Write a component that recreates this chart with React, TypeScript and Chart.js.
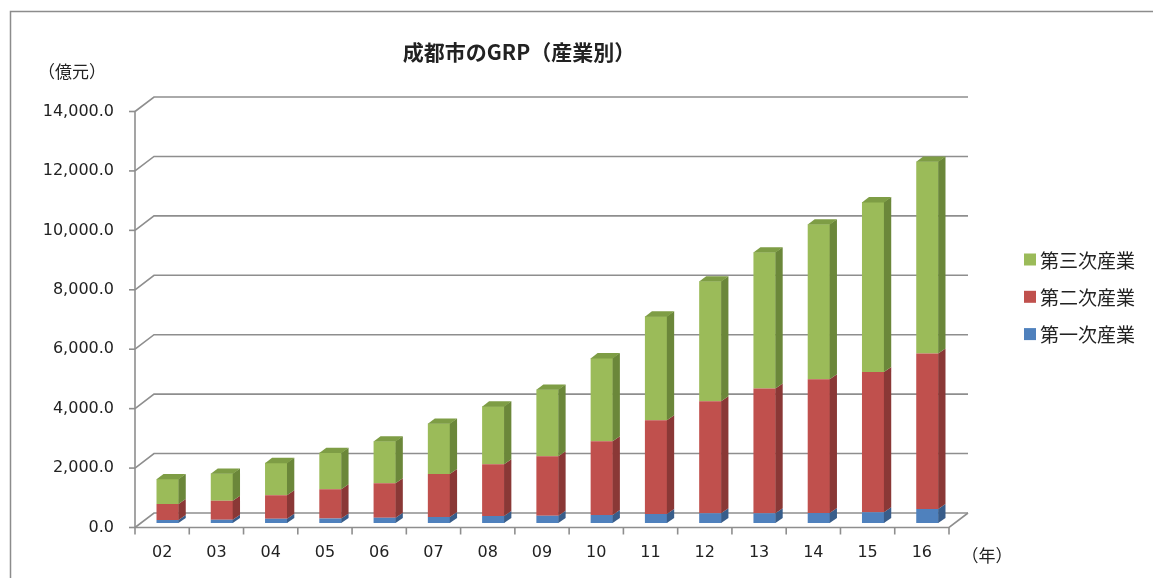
import React, { useEffect, useRef } from "react";
import { Chart, registerables } from "chart.js";

Chart.register(...registerables);

// ---- data ----
const years = ["02", "03", "04", "05", "06", "07", "08", "09", "10", "11", "12", "13", "14", "15", "16"];
const primary = [100, 110, 140, 155, 175, 200, 235, 245, 270, 300, 325, 325, 335, 360, 475];
const secondary = [540, 640, 790, 985, 1160, 1445, 1740, 2005, 2485, 3160, 3775, 4200, 4505, 4725, 5230];
const tertiary = [840, 920, 1095, 1225, 1415, 1705, 1950, 2245, 2795, 3495, 4035, 4590, 5215, 5715, 6465];
const seriesNames = ["第一次産業", "第二次産業", "第三次産業"];
const yTicks = [0, 2000, 4000, 6000, 8000, 10000, 12000, 14000];
const titleText = "成都市のGRP（産業別）";
const yUnit = "（億元）";
const xUnit = "（年）";

const frontColors = ["#4F81BD", "#C0504D", "#9BBB59"];
const sideColors = ["#385D8A", "#8A3836", "#6B873A"];
const topColors = ["#4371A6", "#A54341", "#7E9D45"];

const FRONT_DX = -5.5;
const FRONT_DY = 4.5;
const BACK_DX = 13.5;
const BACK_DY = -10;
const SIDE_DX = 7;
const SIDE_DY = -5;

const NUM_FONT = '16px "DejaVu Sans", sans-serif';
const JP = '"Noto Sans CJK JP", sans-serif';
const TEXT = "#222222";
const GRID = "#8e8e8e";

function fmt(v: number) {
  return v.toLocaleString("en-US", { minimumFractionDigits: 1, maximumFractionDigits: 1 });
}

const decorPlugin = {
  id: "decor3d",
  beforeDatasetsDraw(chart: any) {
    const ctx = chart.ctx as CanvasRenderingContext2D;
    const area = chart.chartArea;
    const ys = chart.scales.y;
    const xs = chart.scales.x;
    const frontLeft = area.left + FRONT_DX;
    const frontRight = area.right + FRONT_DX;
    const backLeft = area.left + BACK_DX;
    const backRight = area.right + BACK_DX;
    ctx.save();

    // outer frame
    ctx.strokeStyle = "#8c8c8c";
    ctx.lineWidth = 1.5;
    ctx.strokeRect(10.5, 11.5, 1400, 900);

    // back wall gridlines
    ctx.strokeStyle = GRID;
    ctx.lineWidth = 1.6;
    yTicks.forEach((v) => {
      const y = ys.getPixelForValue(v);
      ctx.beginPath();
      ctx.moveTo(frontLeft, y + FRONT_DY);
      ctx.lineTo(backLeft, y + BACK_DY);
      ctx.lineTo(backRight, y + BACK_DY);
      ctx.stroke();
      ctx.beginPath();
      ctx.moveTo(frontLeft - 6, y + FRONT_DY);
      ctx.lineTo(frontLeft, y + FRONT_DY);
      ctx.stroke();
    });

    const y0 = ys.getPixelForValue(0);
    const yTop = ys.getPixelForValue(yTicks[yTicks.length - 1]);
    ctx.beginPath();
    ctx.moveTo(frontLeft, yTop + FRONT_DY);
    ctx.lineTo(frontLeft, y0 + FRONT_DY);
    ctx.stroke();
    ctx.beginPath();
    ctx.moveTo(frontLeft, y0 + FRONT_DY);
    ctx.lineTo(frontRight, y0 + FRONT_DY);
    ctx.lineTo(backRight, y0 + BACK_DY);
    ctx.stroke();
    const n = years.length;
    const step = (area.right - area.left) / n;
    for (let i = 0; i <= n; i++) {
      const x = frontLeft + i * step;
      ctx.beginPath();
      ctx.moveTo(x, y0 + FRONT_DY);
      ctx.lineTo(x, y0 + FRONT_DY + 7);
      ctx.stroke();
    }

    // y tick labels
    ctx.fillStyle = TEXT;
    ctx.font = NUM_FONT;
    ctx.textAlign = "right";
    ctx.textBaseline = "middle";
    yTicks.forEach((v) => {
      const y = ys.getPixelForValue(v);
      ctx.fillText(fmt(v), frontLeft - 21, y + FRONT_DY);
    });

    // x labels
    ctx.textAlign = "center";
    chart.data.labels.forEach((lab: string, i: number) => {
      const x = xs.getPixelForValue(i) + FRONT_DX;
      ctx.fillText(lab, x, 553);
    });

    // units
    ctx.font = "17px " + JP;
    ctx.fillText(yUnit, 72, 72);
    ctx.fillText(xUnit, 987, 556);

    // title
    ctx.font = "bold 21px " + JP;
    ctx.fillText(titleText, 519, 52);

    // legend (reverse order)
    ctx.font = "19px " + JP;
    ctx.textAlign = "left";
    const ds = chart.data.datasets;
    for (let k = 0; k < ds.length; k++) {
      const idx = ds.length - 1 - k;
      const cy = 259.5 + k * 37.3;
      ctx.fillStyle = ds[idx].backgroundColor;
      ctx.fillRect(1024, cy - 6, 12, 12);
      ctx.fillStyle = TEXT;
      ctx.fillText(ds[idx].label, 1040, cy + 1);
    }
    ctx.restore();
  },
  afterDatasetsDraw(chart: any) {
    const ctx = chart.ctx as CanvasRenderingContext2D;
    const count = chart.data.datasets.length;
    ctx.save();
    for (let i = 0; i < count; i++) {
      const meta = chart.getDatasetMeta(i);
      meta.data.forEach((bar: any) => {
        const p = bar.getProps(["x", "y", "base", "width"], true);
        const left = p.x - p.width / 2;
        const right = p.x + p.width / 2;
        ctx.fillStyle = sideColors[i];
        ctx.beginPath();
        ctx.moveTo(right - 0.3, p.y);
        ctx.lineTo(right + SIDE_DX, p.y + SIDE_DY);
        ctx.lineTo(right + SIDE_DX, p.base + SIDE_DY);
        ctx.lineTo(right - 0.3, p.base);
        ctx.closePath();
        ctx.fill();
        if (i === count - 1) {
          ctx.fillStyle = topColors[i];
          ctx.beginPath();
          ctx.moveTo(left, p.y + 0.3);
          ctx.lineTo(left + SIDE_DX, p.y + SIDE_DY);
          ctx.lineTo(right + SIDE_DX, p.y + SIDE_DY);
          ctx.lineTo(right, p.y + 0.3);
          ctx.closePath();
          ctx.fill();
        }
      });
    }
    ctx.restore();
  },
};

export default function App() {
  const ref = useRef<HTMLCanvasElement | null>(null);
  useEffect(() => {
    if (!ref.current) return;
    const chart = new Chart(ref.current, {
      type: "bar",
      data: {
        labels: years,
        datasets: [
          { label: seriesNames[0], data: primary, backgroundColor: frontColors[0] },
          { label: seriesNames[1], data: secondary, backgroundColor: frontColors[1] },
          { label: seriesNames[2], data: tertiary, backgroundColor: frontColors[2] },
        ],
      },
      options: {
        animation: false,
        responsive: false,
        devicePixelRatio: 1,
        layout: { padding: { left: 140.5, right: 198.5, top: 107, bottom: 55 } },
        datasets: { bar: { barPercentage: 0.41, categoryPercentage: 1, borderWidth: 0 } },
        plugins: { legend: { display: false }, title: { display: false }, tooltip: { enabled: false } },
        scales: {
          x: { stacked: true, display: false, grid: { display: false } },
          y: { stacked: true, display: false, min: 0, max: 14000, ticks: { stepSize: 2000 } },
        },
      },
      plugins: [decorPlugin],
    } as any);
    return () => chart.destroy();
  }, []);
  return (
    <canvas
      ref={ref}
      width={1153}
      height={578}
      style={{ position: "fixed", left: 0, top: 0, width: 1153, height: 578, background: "#fff" }}
    />
  );
}
